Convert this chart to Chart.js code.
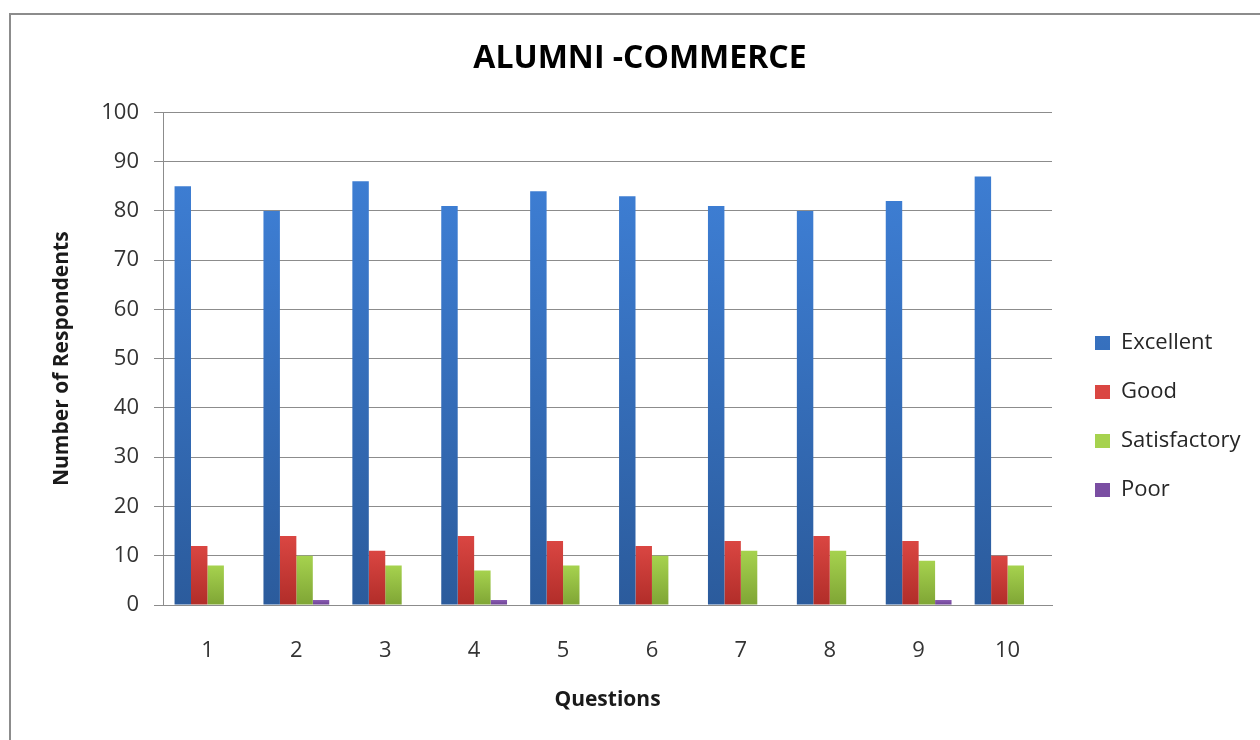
<!DOCTYPE html>
<html>
<head>
<meta charset="utf-8">
<script src="https://cdn.jsdelivr.net/npm/chart.js@4.4.0/dist/chart.umd.min.js"></script>
<style>
html,body{margin:0;padding:0;background:#fff;overflow:hidden}
#wrap{width:1260px;height:740px;position:relative}
</style>
</head>
<body>
<div id="wrap"><canvas id="c" width="1260" height="740"></canvas></div>
<script>
const categories = ['1','2','3','4','5','6','7','8','9','10'];
const excellent = [85,80,86,81,84,83,81,80,82,87];
const good = [12,14,11,14,13,12,13,14,13,10];
const satisfactory = [8,10,8,7,8,10,11,11,9,8];
const poor = [0,1,0,1,0,0,0,0,1,0];
const seriesNames = ['Excellent','Good','Satisfactory','Poor'];
const chartTitle = 'ALUMNI -COMMERCE';
const xTitle = 'Questions';
const yTitle = 'Number of Respondents';
const yMin = 0, yMax = 100, yStep = 10;

const FONT = "'Open Sans', 'DejaVu Sans', sans-serif";

function barGradient(topColor, bottomColor, solid) {
  return (ctx) => {
    if (ctx.type !== 'data') return solid;
    const chart = ctx.chart;
    const y = chart.scales && chart.scales.y;
    if (!y) return solid;
    const v = ctx.parsed ? ctx.parsed.y : ctx.raw;
    const y0 = y.getPixelForValue(0), y1 = y.getPixelForValue(v);
    if (!isFinite(y0) || !isFinite(y1) || Math.abs(y0 - y1) < 1) return solid;
    const g = chart.ctx.createLinearGradient(0, y1, 0, y0);
    g.addColorStop(0, topColor);
    g.addColorStop(1, bottomColor);
    return g;
  };
}

const framePlugin = {
  id: 'frame',
  beforeDraw(chart) {
    const c = chart.ctx;
    c.save();
    c.fillStyle = '#ffffff';
    c.fillRect(0, 0, chart.width, chart.height);
    c.strokeStyle = '#8c8c8c';
    c.lineWidth = 2;
    c.strokeRect(10, 14, chart.width + 40, chart.height + 40);
    c.restore();
  }
};

const placeBoxes = {
  id: 'placeBoxes',
  afterLayout(chart) {
    const lg = chart.legend;
    if (lg) {
      const dx = 1068 - lg.left;
      const dy = 305 - lg.top;
      lg.left += dx; lg.right += dx;
      lg.top += dy; lg.bottom += dy;
    }
    const tb = chart.titleBlock;
    if (tb) {
      tb.left = 20; tb.right = chart.width; tb.width = tb.right - tb.left;
    }
  }
};

new Chart(document.getElementById('c'), {
  type: 'bar',
  data: {
    labels: categories,
    datasets: [
      { label: seriesNames[0], data: excellent, backgroundColor: barGradient('#3d7dd2', '#2b5b9c', '#3a78c8') },
      { label: seriesNames[1], data: good, backgroundColor: barGradient('#da4642', '#b12d29', '#cc3733') },
      { label: seriesNames[2], data: satisfactory, backgroundColor: barGradient('#a6d24e', '#7fa535', '#92c142') },
      { label: seriesNames[3], data: poor, backgroundColor: barGradient('#8a5cb3', '#6a4091', '#7a4ea2') }
    ]
  },
  options: {
    responsive: false,
    animation: false,
    devicePixelRatio: 1,
    layout: { padding: { left: 0, right: 208, top: 0, bottom: 0 } },
    datasets: { bar: { categoryPercentage: 0.74, barPercentage: 1.0, borderWidth: 0 } },
    plugins: {
      tooltip: { enabled: false },
      title: {
        display: true,
        text: chartTitle,
        color: '#000000',
        font: { family: FONT, size: 32, weight: 'bold' },
        padding: { top: 40, bottom: 34 }
      },
      legend: {
        display: true,
        position: 'chartArea',
        align: 'start',
        labels: {
          boxWidth: 15,
          boxHeight: 14,
          padding: 27,
          color: '#262626',
          font: { family: FONT, size: 22 }
        }
      }
    },
    scales: {
      x: {
        grid: { display: false, drawTicks: false },
        border: { display: true, color: '#8c8c8c', width: 1 },
        ticks: { padding: 33, color: '#333333', font: { family: FONT, size: 22 } },
        title: {
          display: true, text: xTitle, color: '#1a1a1a',
          font: { family: FONT, size: 21, weight: 'bold' },
          padding: { top: 0, bottom: 27 }
        },
        afterFit(s) { s.height = 135; }
      },
      y: {
        min: yMin, max: yMax,
        ticks: { stepSize: yStep, padding: 15, color: '#333333', font: { family: FONT, size: 22 } },
        grid: { color: '#8c8c8c', lineWidth: 1, drawTicks: true, tickLength: 9 },
        border: { display: true, color: '#8c8c8c', width: 1 },
        title: {
          display: true, text: yTitle, color: '#1a1a1a',
          font: { family: FONT, size: 21, weight: 'bold' },
          padding: { top: 49, bottom: 0 }
        },
        afterFit(s) { s.width = 163; }
      }
    }
  },
  plugins: [framePlugin, placeBoxes]
});
</script>
</body>
</html>
